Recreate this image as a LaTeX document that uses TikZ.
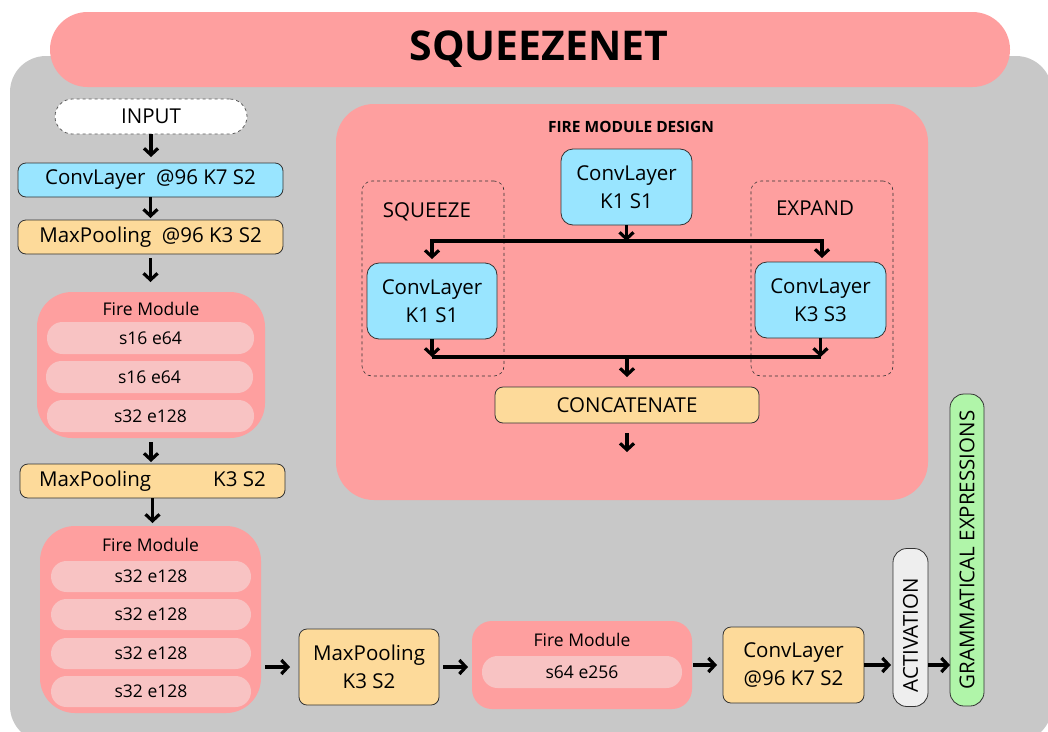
\documentclass[tikz,border=0pt]{standalone}
\usepackage{fontspec}
\setmainfont{Open Sans}
\usetikzlibrary{arrows.meta,calc}

\definecolor{bggray}{HTML}{C8C8C8}
\definecolor{modpink}{HTML}{FE9F9F}
\definecolor{pillpink}{HTML}{F8C3C3}
\definecolor{convblue}{HTML}{99E5FF}
\definecolor{poolorange}{HTML}{FDDA9A}
\definecolor{outgreen}{HTML}{B0F5A9}
\definecolor{actgray}{HTML}{EEEEEE}
\definecolor{edge}{HTML}{333333}

\begin{document}
\begin{tikzpicture}[x=1pt,y=-1pt,
  every node/.style={inner sep=0pt, outer sep=0pt, text=black},
  wh/.style 2 args={minimum width=#1pt, minimum height=#2pt},
  txt/.style={font=\fontsize{20.5}{28}\selectfont},
  layer/.style={draw=edge, line width=0.8pt, rounded corners=8pt, txt, align=center},
  conv/.style={layer, fill=convblue},
  pool/.style={layer, fill=poolorange},
  module/.style={fill=modpink, rounded corners=#1},
  module/.default=35pt,
  pill/.style={fill=pillpink, rounded corners=15.5pt, wh={200}{31}, font=\fontsize{17.5}{20}\selectfont},
  modtitle/.style={font=\fontsize{17.5}{20}\selectfont},
  group/.style={draw=edge, dashed, line width=0.6pt, rounded corners=10pt},
  arr/.style={line width=3.2pt, -{Straight Barb[length=6.5pt,width=14pt]}},
  link/.style={line width=3.2pt}
]
\useasboundingbox (0,0) rectangle (1048,731);

% background panel
\begin{scope}
  \clip (0,0) rectangle (1048,731);
  \fill[bggray, rounded corners=36pt] (10,56) rectangle (1052,742);
\end{scope}

% title banner
\node[module=37.5pt, wh={960}{75}] (title) at (530,49.5) {};
\node[font=\fontsize{41}{44}\selectfont\bfseries] (titletext) at (539,49) {SQUEEZENET};

% ---------------- left column ----------------
\node[draw=edge!80, dashed, line width=0.8pt, fill=white, rounded corners=17.5pt, txt, wh={192}{35}] (input) at (151,116.5) {INPUT};
\node[conv, wh={265}{34}] (conv1) at (150.5,180) {ConvLayer~~@96 K7 S2};
\node[pool, wh={265}{34}] (pool1) at (150.5,237) {MaxPooling~~@96 K3 S2};

\node[module, wh={228}{146}] (fire1) at (151,365) {};
\node[modtitle] (fire1t) at (151,309) {Fire Module};
\node[pill, wh={207}{32}] (f1a) at (150.5,338) {s16 e64};
\node[pill, wh={207}{32}] (f1b) at (149.5,377) {s16 e64};
\node[pill, wh={207}{32}] (f1c) at (150.5,416) {s32 e128};

\node[pool, wh={265}{34}] (pool2) at (152.5,481) {MaxPooling\hspace{62pt}K3 S2};

\node[module, wh={221}{187}] (fire2) at (150.5,619.5) {};
\node[modtitle] (fire2t) at (150.5,545) {Fire Module};
\node[pill] (f2a) at (151,576.5) {s32 e128};
\node[pill] (f2b) at (151,614.5) {s32 e128};
\node[pill] (f2c) at (151,653.5) {s32 e128};
\node[pill] (f2d) at (151,691.5) {s32 e128};

% ---------------- bottom row ----------------
\node[pool, wh={140}{76}] (pool3) at (369,667) {MaxPooling\\K3 S2};
\node[module=20pt, wh={220}{88}] (fire3) at (582,665) {};
\node[modtitle] (fire3t) at (582,640) {Fire Module};
\node[pill, wh={200}{32}] (f3a) at (582,672) {s64 e256};
\node[pool, wh={141}{76}] (conv3) at (793.5,665) {ConvLayer\\@96 K7 S2};
\node[layer, fill=actgray, rounded corners=14pt, wh={35}{158}] (act) at (910.5,627.5) {\rotatebox{90}{ACTIVATION\hspace*{16pt}}};
\node[layer, fill=outgreen, rounded corners=14pt, wh={34}{312}] (gram) at (967,550) {\rotatebox{90}{GRAMMATICAL EXPRESSIONS}};

% ---------------- fire module design ----------------
\node[module=38pt, wh={592}{396}] (design) at (632,302) {};
\node[font=\fontsize{15.5}{18}\selectfont\bfseries] (designtitle) at (631,127) {FIRE MODULE DESIGN};
\node[group, wh={142}{195}] (squeeze) at (433,278.5) {};
\node[group, wh={142}{195}] (expand) at (822,278.5) {};
\node[txt] (squeezelabel) at (427,212) {SQUEEZE};
\node[txt] (expandlabel) at (815,208) {EXPAND};
\node[conv, rounded corners=12pt, wh={131}{76}] (dconv) at (626.5,187) {ConvLayer\\K1 S1};
\node[conv, rounded corners=12pt, wh={130}{76}] (sconv) at (432,301) {ConvLayer\\K1 S1};
\node[conv, rounded corners=12pt, wh={131}{76}] (econv) at (820.5,300) {ConvLayer\\K3 S3};
\node[pool, wh={264}{36}] (concat) at (627,405) {CONCATENATE};

\coordinate (dsplit) at (626,241);
\coordinate (dl) at (432,241);
\coordinate (dr) at (822,241);
\coordinate (jn) at (626,357);
\coordinate (dout) at (626,452);

\draw[arr] (dconv.south) -- (dconv.south |- dsplit);
\draw[arr, shorten >=4pt] (dsplit) -- (dl) -- (dl |- sconv.north);
\draw[arr, shorten >=4pt] (dsplit) -- (dr) -- (dr |- econv.north);
\draw[arr] (sconv.south) -- (sconv.south |- jn);
\draw[arr] (econv.south) -- (econv.south |- jn);
\draw[link] (sconv.south |- jn) -- (econv.south |- jn);
\draw[arr, shorten >=10pt] (concat.north |- jn) -- (concat.north);
\draw[arr, shorten <=10pt] (concat.south) -- (concat.south |- dout);

% ---------------- main flow ----------------
\draw[arr, shorten >=6pt] (input.south) -- (input.south |- conv1.north);
\draw[arr, shorten >=2pt] (conv1.south) -- (conv1.south |- pool1.north);
\draw[arr, shorten <=4pt, shorten >=10pt] (pool1.south) -- (pool1.south |- fire1.north);
\draw[arr, shorten <=4pt, shorten >=2pt] (fire1.south) -- (fire1.south |- pool2.north);
\draw[arr, shorten >=3pt] (pool2.south) -- (pool2.south |- fire2.north);
\draw[arr, shorten <=4pt, shorten >=9pt] (fire2.east |- pool3.west) -- (pool3.west);
\draw[arr, shorten <=4pt, shorten >=4pt] (pool3.east) -- (pool3.east -| fire3.west);
\draw[arr, shorten <=1pt, shorten >=6pt] (fire3.east |- conv3.west) -- (conv3.west);
\draw[arr, shorten >=2pt] (conv3.east) -- (conv3.east -| act.west);
\draw[arr] (act.east |- conv3.east) -- (gram.west |- conv3.east);
\end{tikzpicture}
\end{document}
